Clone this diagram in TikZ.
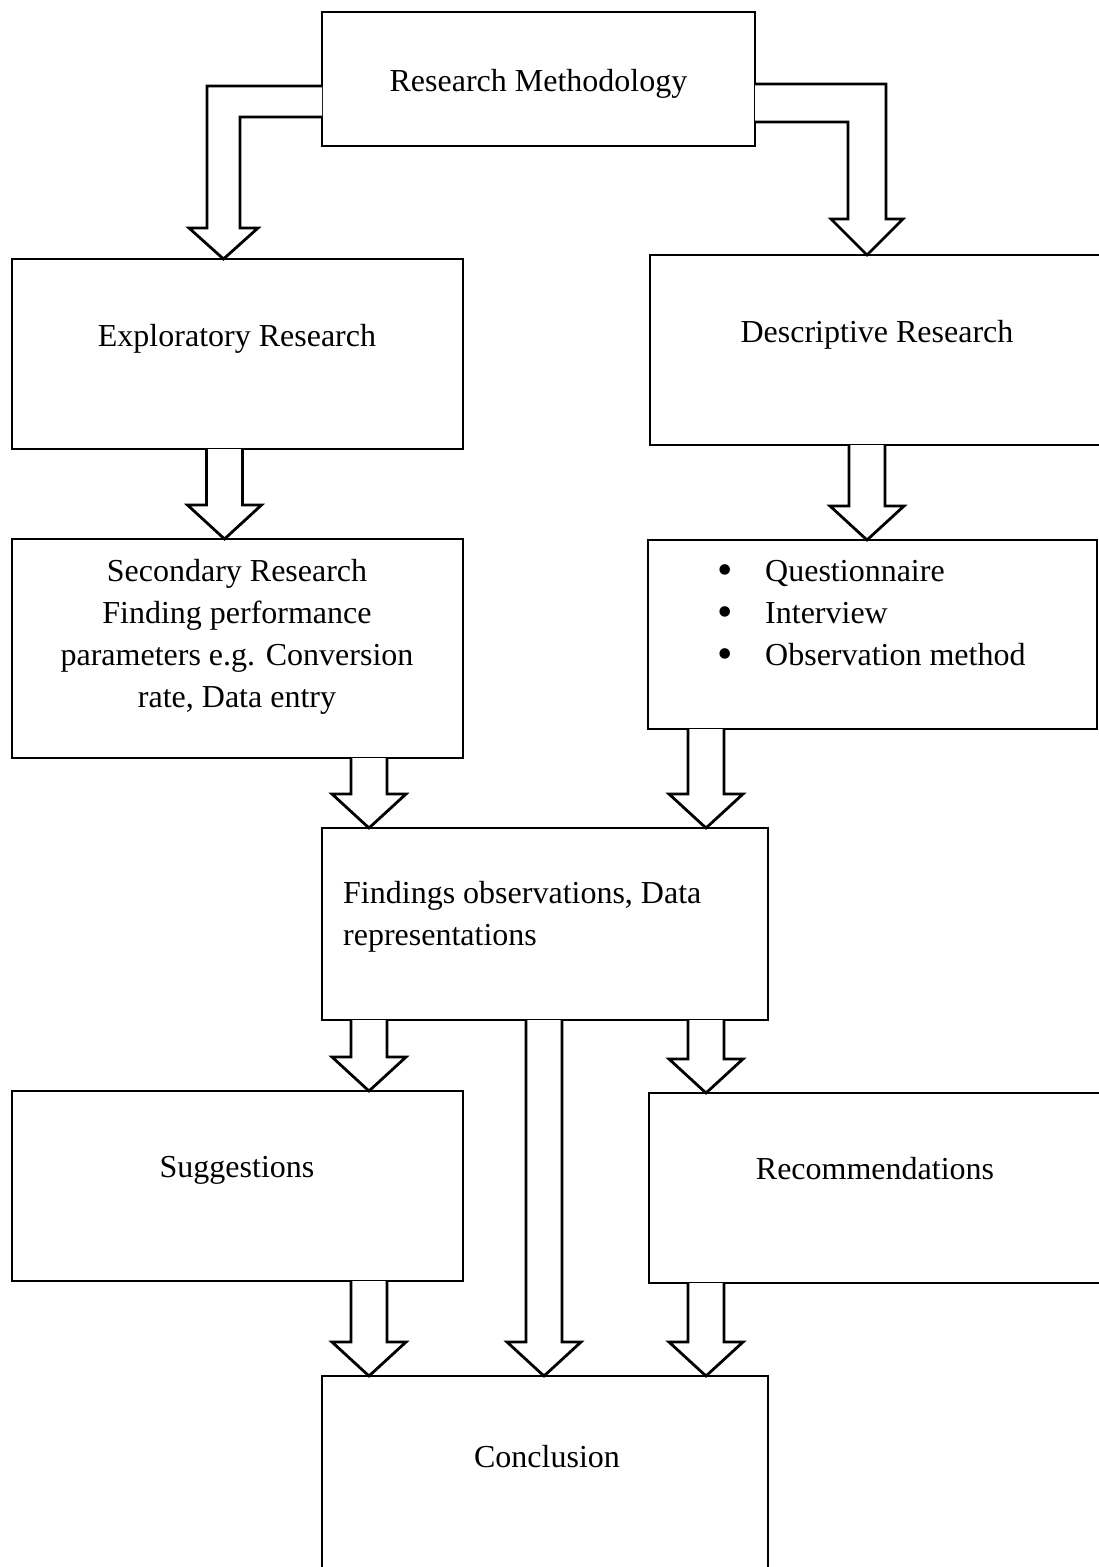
\documentclass[tikz,border=0pt]{standalone}
\usepackage{fontspec}
\setmainfont{Liberation Serif}
\usetikzlibrary{calc}
\tikzset{
  box/.style={draw, line width=2.8pt, inner sep=0pt, outer sep=0pt, anchor=north west},
  blk/.style={draw, line width=2.8pt, line join=miter, fill=white},
  lbl/.style={inner sep=0pt, font=\fontsize{32}{42}\selectfont}
}
% vertical block arrow: #1 = centre x (px), #2 = source node, #3 = target node
\newcommand\vblk[3]{%
  \draw[blk] let \p1=(#2.south), \p2=(#3.north) in
    ({#1pt-18pt},\y1) -- ({#1pt-18pt},{\y2+34pt}) -- ({#1pt-37pt},{\y2+34pt})
    -- ({#1pt},\y2) -- ({#1pt+37pt},{\y2+34pt}) -- ({#1pt+18pt},{\y2+34pt})
    -- ({#1pt+18pt},\y1);}
\newcommand\bulitem{\makebox[48pt][l]{\raisebox{-3pt}{\fontsize{44}{42}\selectfont •}}}
\begin{document}
\begin{tikzpicture}[x=1pt,y=-1pt]
\useasboundingbox (0,0) rectangle (1099,1567);
% boxes
\node[box, minimum width=433pt, minimum height=134pt] (rm) at (322,12) {};
\node[box, minimum width=451pt, minimum height=190pt] (expl) at (12,259) {};
\node[box, minimum width=456pt, minimum height=190pt] (desc) at (650,255) {};
\node[box, minimum width=451pt, minimum height=219pt] (sec) at (12,539) {};
\node[box, minimum width=449pt, minimum height=189pt] (bul) at (648,540) {};
\node[box, minimum width=446pt, minimum height=192pt] (find) at (322,828) {};
\node[box, minimum width=451pt, minimum height=190pt] (sugg) at (12,1091) {};
\node[box, minimum width=454pt, minimum height=190pt] (recom) at (649,1093) {};
\node[box, minimum width=446pt, minimum height=260pt] (conc) at (322,1376) {};
% texts
\node[lbl] (rm-t) at (538.5,84) {Research Methodology};
\node[lbl] (expl-t) at (237,338.5) {Exploratory Research};
\node[lbl] (desc-t) at (877,334.5) {Descriptive Research};
\node[lbl, align=center] (sec-t) at (237,636.5) {Secondary Research\\Finding performance\\parameters e.g. Conversion\\rate, Data entry};
\node[lbl, align=left, anchor=north west] (bul-t) at (717,560) {\bulitem Questionnaire\\\bulitem Interview\\\bulitem Observation method};
\node[lbl, align=left, anchor=north west] (find-t) at (343,881) {Findings observations, Data\\representations};
\node[lbl] (sugg-t) at (237,1170.5) {Suggestions};
\node[lbl] (recom-t) at (875,1169) {Recommendations};
\node[lbl] (conc-t) at (547,1457) {Conclusion};
% bent arrows from Research Methodology
\draw[blk] let \p1=(rm.west), \p2=(expl.north) in
  (\x1,-86pt) -- (207pt,-86pt) -- (207pt,{\y2+31pt}) -- (189pt,{\y2+31pt})
  -- (223.5pt,\y2) -- (258pt,{\y2+31pt}) -- (240pt,{\y2+31pt}) -- (240pt,-117pt) -- (\x1,-117pt);
\draw[blk] let \p1=(rm.east), \p2=(desc.north) in
  (\x1,-84pt) -- (886pt,-84pt) -- (886pt,{\y2+36pt}) -- (903pt,{\y2+36pt})
  -- (867pt,\y2) -- (831pt,{\y2+36pt}) -- (848pt,{\y2+36pt}) -- (848pt,-122pt) -- (\x1,-122pt);
% vertical block arrows
\vblk{224.5}{expl}{sec}
\vblk{867}{desc}{bul}
\vblk{369}{sec}{find}
\vblk{706}{bul}{find}
\vblk{369}{find}{sugg}
\vblk{544}{find}{conc}
\vblk{706}{find}{recom}
\vblk{369}{sugg}{conc}
\vblk{706}{recom}{conc}
\end{tikzpicture}
\end{document}
